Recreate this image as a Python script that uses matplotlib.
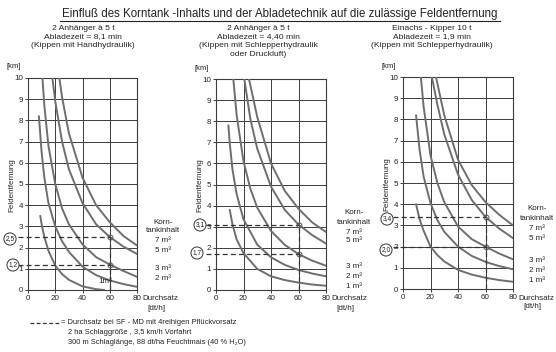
import matplotlib
matplotlib.use("Agg")
import matplotlib.pyplot as plt
from matplotlib.lines import Line2D

plt.rcParams['font.family'] = ['Liberation Sans', 'DejaVu Sans']

W, H = 556, 352

# ---------------- data ----------------
title = "Einfluß des Korntank -Inhalts und der Abladetechnik auf die zulässige Feldentfernung"
subtitles = [
    "2 Anhänger à 5 t\nAbladezeit = 8,1 min\n(Kippen mit Handhydraulik)",
    "2 Anhänger à 5 t\nAbladezeit = 4,40 min\n(Kippen mit Schlepperhydraulik\noder Druckluft)",
    "Einachs - Kipper 10 t\nAbladezeit = 1,9 min\n(Kippen mit Schlepperhydraulik)",
]
tank_sizes = ["1 m³", "2 m³", "3 m³", "5 m³", "7 m³"]
x_ticks = [0, 20, 40, 60, 80]
y_ticks = list(range(0, 11))

# panel 1: Abladezeit 8,1 min
p1_1m3_x = [9, 10, 12, 15, 20, 25, 30, 40, 50, 56]
p1_1m3_y = [3.5, 3.1, 2.5, 1.85, 1.15, 0.75, 0.48, 0.17, 0.04, 0.0]
p1_2m3_x = [8, 10, 12, 15, 20, 25, 30, 40, 50, 60, 70, 80]
p1_2m3_y = [8.2, 6.5, 5.3, 4.1, 3.0, 2.3, 1.8, 1.1, 0.7, 0.45, 0.28, 0.15]
p1_3m3_x = [10.6, 12, 15, 20, 25, 30, 40, 50, 60, 70, 80]
p1_3m3_y = [10.0, 8.7, 6.8, 5.0, 3.85, 3.1, 2.15, 1.55, 1.2, 0.9, 0.62]
p1_5m3_x = [17.9, 20, 25, 30, 40, 50, 60, 70, 80]
p1_5m3_y = [10.0, 8.9, 7.0, 5.7, 4.1, 3.1, 2.5, 2.05, 1.7]
p1_7m3_x = [23, 25, 30, 40, 50, 60, 70, 80]
p1_7m3_y = [10.0, 9.1, 7.4, 5.3, 4.0, 3.2, 2.55, 2.1]
p1_marks = [2.5, 1.2]
p1_mark_labels = ["2,5", "1,2"]

# panel 2: Abladezeit 4,40 min
p2_1m3_x = [10, 12, 15, 20, 30, 40, 50, 60, 70, 80]
p2_1m3_y = [3.8, 3.1, 2.4, 1.75, 1.0, 0.65, 0.47, 0.35, 0.26, 0.2]
p2_2m3_x = [9, 10, 12, 15, 20, 30, 40, 50, 60, 70, 80]
p2_2m3_y = [7.8, 6.95, 5.7, 4.55, 3.35, 2.15, 1.55, 1.19, 0.95, 0.78, 0.65]
p2_3m3_x = [12.6, 15, 20, 25, 30, 40, 50, 60, 70, 80]
p2_3m3_y = [10.0, 8.3, 6.1, 4.8, 3.9, 2.8, 2.14, 1.7, 1.39, 1.15]
p2_5m3_x = [20.6, 25, 30, 40, 50, 60, 70, 80]
p2_5m3_y = [10.0, 8.1, 6.7, 4.9, 3.8, 3.1, 2.6, 2.2]
p2_7m3_x = [24, 30, 40, 50, 60, 70, 80]
p2_7m3_y = [10.0, 8.2, 6.0, 4.7, 3.85, 3.2, 2.75]
p2_marks = [3.1, 1.7]
p2_mark_labels = ["3,1", "1,7"]

# panel 3: Abladezeit 1,9 min
p3_1m3_x = [9.5, 12, 15, 20, 25, 30, 40, 50, 60, 70, 80]
p3_1m3_y = [4.0, 3.3, 2.75, 2.0, 1.6, 1.3, 0.9, 0.68, 0.53, 0.42, 0.34]
p3_2m3_x = [9.5, 12, 15, 20, 25, 30, 40, 50, 60, 70, 80]
p3_2m3_y = [8.2, 6.6, 5.3, 4.05, 3.25, 2.7, 2.0, 1.56, 1.28, 1.08, 0.93]
p3_3m3_x = [13, 15, 20, 25, 30, 40, 50, 60, 70, 80]
p3_3m3_y = [10.0, 8.6, 6.3, 5.0, 4.1, 2.95, 2.35, 2.0, 1.67, 1.4]
p3_5m3_x = [21, 25, 30, 40, 50, 60, 70, 80]
p3_5m3_y = [10.0, 8.7, 7.3, 5.4, 4.2, 3.4, 2.85, 2.4]
p3_7m3_x = [24, 30, 40, 50, 60, 70, 80]
p3_7m3_y = [10.0, 8.2, 6.1, 4.9, 4.1, 3.5, 3.0]
p3_marks = [3.4, 2.0]
p3_mark_labels = ["3,4", "2,0"]

mark_x = 60

footnote_1 = "= Durchsatz bei SF - MD mit 4reihigen Pflückvorsatz"
footnote_2 = "2 ha Schlaggröße , 3,5 km/h Vorfahrt"
footnote_3 = "300 m Schlaglänge, 88 dt/ha Feuchtmais (40 % H₂O)"

panel_curves = [
    [(p1_1m3_x, p1_1m3_y), (p1_2m3_x, p1_2m3_y), (p1_3m3_x, p1_3m3_y), (p1_5m3_x, p1_5m3_y), (p1_7m3_x, p1_7m3_y)],
    [(p2_1m3_x, p2_1m3_y), (p2_2m3_x, p2_2m3_y), (p2_3m3_x, p2_3m3_y), (p2_5m3_x, p2_5m3_y), (p2_7m3_x, p2_7m3_y)],
    [(p3_1m3_x, p3_1m3_y), (p3_2m3_x, p3_2m3_y), (p3_3m3_x, p3_3m3_y), (p3_5m3_x, p3_5m3_y), (p3_7m3_x, p3_7m3_y)],
]
panel_marks = [p1_marks, p2_marks, p3_marks]
panel_mark_labels = [p1_mark_labels, p2_mark_labels, p3_mark_labels]

# ---------------- layout / style ----------------
TXT = "#222222"
GRID = "#3c3c3c"
CURVE = "#6e6e6e"

fig = plt.figure(figsize=(W / 100, H / 100), dpi=100)
fig.patch.set_facecolor("white")


def rect(l, r, b, t):
    return [l / W, 1 - b / H, (r - l) / W, (b - t) / H]


def fx(x):
    return x / W


def fy(y):
    return 1 - y / H


axes_px = [(28, 137, 290, 78), (216, 326, 290, 79), (403, 513, 289, 77)]
subtitle_x = [83, 258, 432]
label_x = [163, 354, 537]
# right-hand labels (pixel y) per panel: Korn-, tankinhalt, then sizes 7,5,3,2,1
right_label_y = [
    [222, 231, 241, 250, 268, 278, None],
    [213, 222, 232, 241, 266, 276, 286],
    [209, 219, 229, 238, 260, 270, 281],
]
circle_px = [[(10, 239), (13, 265)], [(200, 225), (197, 253)], [(387, 219), (386, 250)]]

# title
fig.text(fx(280), fy(14), title, ha="center", va="center", fontsize=8.3, color=TXT)
fig.add_artist(Line2D([fx(60), fx(500)], [fy(21), fy(21)], color=TXT, lw=0.8))

for i, (l, r, b, t) in enumerate(axes_px):
    ax = fig.add_axes(rect(l, r, b, t))
    ax.set_xlim(0, 80)
    ax.set_ylim(0, 10)
    ax.set_xticks(x_ticks)
    ax.set_yticks(y_ticks)
    ax.set_xticklabels([str(v) for v in x_ticks], fontsize=5.8, color=TXT)
    ax.set_yticklabels([str(v) for v in y_ticks], fontsize=5.8, color=TXT)
    ax.tick_params(length=2, width=0.6, pad=1.5, colors=TXT)
    ax.grid(True, color=GRID, lw=0.7)
    for s in ax.spines.values():
        s.set_color(GRID)
        s.set_linewidth(0.8)

    for (xs, ys) in panel_curves[i]:
        ax.plot(xs, ys, color=CURVE, lw=1.4, solid_capstyle="round", zorder=3)

    marks = panel_marks[i]
    for m in marks:
        ax.plot([-7, mark_x], [m, m], ls=(0, (4, 2.5)), color="#333333", lw=0.9,
                clip_on=False, zorder=4)
        ax.plot([mark_x], [m], marker="o", ms=3.5, mfc="none", mec="#555555", mew=0.7, zorder=5)
    ax.plot([mark_x, mark_x], [0, max(marks)], ls=(0, (4, 2.5)), color="#333333", lw=0.9, zorder=4)

    # subtitles
    fig.text(fx(subtitle_x[i]), fy(25), subtitles[i], ha="center", va="top",
             fontsize=6.1, color=TXT, linespacing=1.3)
    # [km]
    fig.text(fx(l - 14), fy(t - 11), "[km]", ha="center", va="center", fontsize=5.5, color=TXT)
    # y label
    fig.text(fx(l - 16), fy(b - 105), "Feldentfernung", rotation=90, ha="center",
             va="center", fontsize=5.8, color=TXT)
    # x label
    fig.text(fx(r + 5), fy(b + 9), "Durchsatz", ha="left", va="center", fontsize=5.8, color=TXT)
    fig.text(fx(r + 19), fy(b + 18), "[dt/h]", ha="center", va="center", fontsize=5.8, color=TXT)

    # right labels
    ry = right_label_y[i]
    lx = fx(label_x[i])
    fig.text(lx, fy(ry[0]), "Korn-", ha="center", va="center", fontsize=5.8, color=TXT)
    fig.text(lx, fy(ry[1]), "tankinhalt", ha="center", va="center", fontsize=5.8, color=TXT)
    size_order = ["7 m³", "5 m³", "3 m³", "2 m³", "1 m³"]
    for k, lab in enumerate(size_order):
        if ry[2 + k] is not None:
            fig.text(lx, fy(ry[2 + k]), lab, ha="center", va="center", fontsize=5.8, color=TXT)
    if i == 0:
        ax.text(57, 0.42, "1m³", ha="center", va="center", fontsize=5.8, color=TXT, zorder=6)

    # circled values
    for (cx, cy), lab in zip(circle_px[i], panel_mark_labels[i]):
        fig.text(fx(cx), fy(cy), lab, ha="center", va="center", fontsize=4.8, color=TXT,
                 bbox=dict(boxstyle="circle,pad=0.22", fc="white", ec="#333333", lw=0.7))

# footnote
fig.add_artist(Line2D([fx(30), fx(59)], [fy(323), fy(323)], color="#333333", lw=0.9,
                      ls=(0, (3, 2))))
fig.text(fx(61), fy(323), footnote_1, ha="left", va="center", fontsize=5.4, color=TXT)
fig.text(fx(68), fy(332.5), footnote_2, ha="left", va="center", fontsize=5.4, color=TXT)
fig.text(fx(68), fy(342), footnote_3, ha="left", va="center", fontsize=5.4, color=TXT)

fig.savefig("out.png", dpi=100, facecolor="white")
